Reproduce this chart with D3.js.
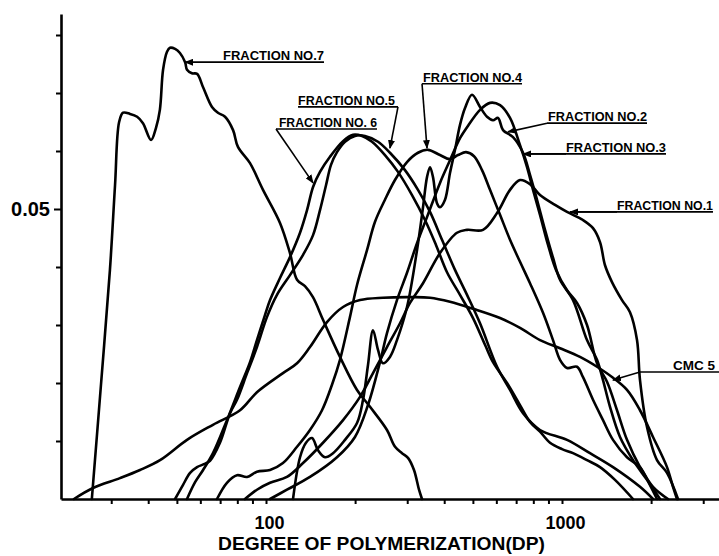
<!DOCTYPE html>
<html><head><meta charset="utf-8">
<script src="https://cdn.jsdelivr.net/npm/d3@7"></script>
<style>
html,body{margin:0;padding:0;background:#fff;}
svg{display:block;}
text{font-family:"Liberation Sans",Arial,sans-serif;font-weight:bold;fill:#000;}
</style></head><body>
<svg id="chart" width="719" height="556"></svg>
<script>
// ---- data: [degree of polymerization, weight fraction] ----
const fraction1 = [[84.9,0],[93.2,0.0016],[103.2,0.0028],[117.7,0.0038],[133.4,0.0062],[155.8,0.0097],[182.1,0.0136],[207.8,0.0176],[229.9,0.0217],[256.3,0.0262],[283.6,0.0303],[306.5,0.0338],[339.2,0.0372],[387.1,0.0424],[441.8,0.0459],[477.7,0.0464],[541.0,0.0464],[603.3,0.0493],[667.4,0.0533],[721.4,0.0550],[779.7,0.0543],[842.8,0.0524],[947.2,0.0507],[1039.8,0.0495],[1177.6,0.0481],[1272.7,0.0467],[1344.0,0.0443],[1397.3,0.0403],[1475.4,0.0374],[1594.8,0.0343],[1697.2,0.0322],[1792.2,0.0274],[1834.5,0.0205],[1937.1,0.0124],[2093.7,0.0067],[2263.1,0.0045],[2465.2,0]];
const fraction2 = [[123.4,0],[130.3,0.0072],[136.5,0.0097],[143.0,0.0105],[149.9,0.0084],[158.3,0.0072],[168.4,0.0079],[184.9,0.0102],[203.0,0.0131],[212.7,0.0171],[221.1,0.0231],[229.9,0.0291],[239.0,0.0257],[248.4,0.0234],[262.3,0.0245],[277.0,0.0274],[299.5,0.0331],[323.7,0.0429],[339.2,0.0503],[349.9,0.0555],[358.2,0.0572],[366.6,0.0555],[378.2,0.0510],[387.1,0.0503],[402.5,0.0516],[418.4,0.0562],[435.0,0.0602],[452.3,0.0645],[470.3,0.0674],[496.6,0.0697],[528.5,0.0676],[558.1,0.0659],[584.7,0.0653],[608.0,0.0657],[632.1,0.0636],[683.2,0.0624],[738.5,0.0597],[779.7,0.0559],[823.4,0.0516],[876.3,0.0464],[932.5,0.0416],[984.6,0.0378],[1089.4,0.0343],[1214.7,0.0274],[1313.0,0.0240],[1375.7,0.0205],[1452.7,0.0159],[1570.2,0.0107],[1737.3,0.0067],[1937.1,0.0033],[2143.2,0]];
const fraction3 = [[103.2,0],[117.7,0.0016],[140.8,0.0038],[173.7,0.0072],[199.8,0.0107],[221.1,0.0162],[242.7,0.0236],[256.3,0.0286],[277.0,0.0343],[299.5,0.0390],[323.7,0.0441],[349.9,0.0486],[387.1,0.0545],[418.4,0.0584],[452.3,0.0622],[477.7,0.0641],[528.5,0.0671],[571.2,0.0683],[617.5,0.0679],[667.4,0.0657],[721.4,0.0610],[761.8,0.0572],[798.2,0.0533],[842.8,0.0490],[897.0,0.0438],[954.5,0.0395],[1039.8,0.0360],[1123.9,0.0338],[1214.7,0.0300],[1313.0,0.0234],[1419.2,0.0202],[1534.0,0.0153],[1658.0,0.0102],[1834.5,0.0055],[2029.6,0.0021],[2280.8,0]];
const fraction4 = [[68.3,0],[73.8,0.0028],[79.8,0.0041],[86.3,0.0038],[93.2,0.0047],[103.2,0.0050],[114.1,0.0062],[127.3,0.0090],[140.8,0.0119],[154.6,0.0153],[167.1,0.0197],[177.8,0.0240],[192.2,0.0314],[203.0,0.0369],[219.4,0.0429],[233.5,0.0478],[252.3,0.0516],[272.7,0.0550],[299.5,0.0581],[326.2,0.0597],[352.6,0.0602],[387.1,0.0593],[418.4,0.0586],[445.3,0.0593],[474.0,0.0598],[504.4,0.0591],[536.8,0.0567],[571.2,0.0533],[617.5,0.0490],[667.4,0.0447],[721.4,0.0409],[779.7,0.0372],[862.7,0.0321],[932.5,0.0274],[984.6,0.0240],[1039.8,0.0226],[1123.9,0.0228],[1177.6,0.0210],[1272.7,0.0171],[1375.7,0.0136],[1487.0,0.0102],[1658.0,0.0072],[1834.5,0.0055],[1982.8,0.0024],[2093.7,0]];
const fraction5 = [[49.3,0],[52.4,0.0024],[55.4,0.0045],[58.5,0.0055],[61.7,0.0060],[64.7,0.0066],[69.9,0.0097],[75.6,0.0148],[79.8,0.0171],[86.3,0.0217],[93.2,0.0262],[100.8,0.0314],[108.9,0.0352],[120.5,0.0386],[133.4,0.0421],[144.2,0.0455],[152.2,0.0498],[159.5,0.0541],[165.8,0.0576],[173.7,0.0598],[184.9,0.0616],[199.8,0.0626],[216.0,0.0626],[239.0,0.0616],[262.3,0.0597],[294.8,0.0567],[326.2,0.0533],[358.2,0.0495],[393.2,0.0447],[435.0,0.0395],[477.7,0.0352],[528.5,0.0303],[603.3,0.0228],[667.4,0.0188],[738.5,0.0148],[842.8,0.0119],[1039.8,0.0102],[1243.4,0.0079],[1487.0,0.0055],[1834.5,0.0021],[2029.6,0]];
const fraction6 = [[54.1,0],[57.6,0.0029],[61.3,0.0050],[66.2,0.0079],[73.8,0.0136],[81.7,0.0193],[88.3,0.0236],[93.2,0.0274],[99.2,0.0317],[103.2,0.0343],[111.5,0.0381],[120.5,0.0417],[130.3,0.0459],[137.6,0.0498],[144.2,0.0538],[152.2,0.0564],[164.5,0.0590],[182.1,0.0617],[196.8,0.0628],[211.0,0.0626],[228.1,0.0616],[252.3,0.0593],[279.2,0.0564],[311.4,0.0524],[344.5,0.0481],[375.2,0.0438],[408.8,0.0391],[452.3,0.0352],[500.5,0.0312],[549.4,0.0266],[584.7,0.0236],[652.1,0.0200],[721.4,0.0162],[779.7,0.0133],[842.8,0.0116],[911.0,0.0097],[1000.1,0.0086],[1089.4,0.0079],[1214.7,0.0067],[1344.0,0.0055],[1510.3,0.0033],[1737.3,0]];
const fraction7 = [[25.8,0],[27.7,0.0197],[29.7,0.0395],[30.9,0.0541],[31.9,0.0650],[32.9,0.0666],[34.7,0.0664],[36.7,0.0659],[38.4,0.0648],[40.9,0.0619],[42.5,0.0640],[43.8,0.0671],[44.9,0.0740],[46.3,0.0771],[47.4,0.0778],[49.3,0.0776],[51.2,0.0769],[53.3,0.0753],[54.1,0.0740],[56.2,0.0734],[58.5,0.0733],[61.3,0.0710],[65.7,0.0676],[68.8,0.0666],[72.7,0.0659],[77.4,0.0636],[80.4,0.0607],[88.3,0.0579],[97.7,0.0533],[111.5,0.0476],[120.5,0.0424],[127.3,0.0378],[135.4,0.0367],[144.1,0.0348],[155.8,0.0309],[177.8,0.0245],[203,0.0188],[224.6,0.0159],[256.3,0.0119],[272.9,0.0090],[288.1,0.0079],[301.8,0.0071],[316.2,0.0050],[328.8,0.0016],[336.5,0]];
const cmc5 = [[22.45,0],[26.03,0.0019],[32.11,0.0036],[37.53,0.0050],[43.85,0.0067],[54.1,0.0102],[66.2,0.0128],[81.7,0.0153],[93.2,0.0184],[114.1,0.0217],[127.3,0.0234],[140.8,0.0262],[160.7,0.0305],[182.1,0.0331],[207.8,0.0343],[248.4,0.0347],[306.5,0.0348],[358.2,0.0347],[418.4,0.0340],[500.5,0.0328],[617.5,0.0312],[721.4,0.0295],[842.8,0.0274],[984.6,0.0260],[1150.4,0.0245],[1313.0,0.0228],[1487.0,0.0209],[1658.0,0.0188],[1834.5,0.0153],[2029.6,0.0107],[2263.1,0.0055],[2371.3,0.0021],[2446.1,0]];

const seriesNames = ["FRACTION NO.1","FRACTION NO.2","FRACTION NO.3","FRACTION NO.4","FRACTION NO.5","FRACTION NO. 6","FRACTION NO.7","CMC 5"];
const seriesData = [fraction1, fraction2, fraction3, fraction4, fraction5, fraction6, fraction7, cmc5];

// label anchors in data space: text left DP, underline value, underline extent, leader to arrow tip
const labelTextDP   = [1534.0, 897.0, 1031.7, 339.2, 128.3, 110.6, 71.6, 2371.3];
const labelLineV    = [0.0495, 0.0648, 0.0595, 0.0716, 0.0676, 0.0638, 0.0753, 0.0219];
const labelLineFrom = [1064.3, 890.0, 738.5, 336.6, 128.3, 108.1, 53.3, 1834.5];
const labelLineTo   = [3236.6, 1937.1, 2245.6, 732.7, 279.2, 237.1, 157.0, 3450.0];
const leaderStart   = [[1534.0,0.0495],[890.0,0.0648],[1031.7,0.0595],[336.6,0.0716],[279.2,0.0676],[108.1,0.0638],[157.0,0.0753],[1834.5,0.0219]];
const leaderTip     = [[1064.3,0.0495],[657.2,0.0633],[738.5,0.0595],[349.9,0.0605],[262.3,0.0605],[144.2,0.0545],[53.3,0.0753],[1487.0,0.0205]];

const xTicks = [30,40,50,60,70,80,90,100,200,300,400,500,600,700,800,900,1000,2000,3000];
const xLabelTicks = [100,1000];
const yTicks = [0.01,0.02,0.03,0.04,0.05,0.06,0.07,0.08];
const yLabelTicks = [0.05];
const xTitle = "DEGREE OF POLYMERIZATION(DP)";

// ---- layout ----
const svg = d3.select("#chart");
const x = d3.scaleLog().domain([100,1000]).range([266,562]);
x.domain([x.invert(61), x.invert(719)]).range([61,719]);
const y = d3.scaleLinear().domain([0,0.05]).range([499,209]);
y.domain([0, y.invert(14)]).range([499,14]);

const labelWidths = [96, 99, 100, 99, 97, 98, 101, 42];

// axes
const xAxis = d3.axisBottom(x).tickValues(xTicks).tickSize(5).tickSizeOuter(0)
  .tickFormat(d => xLabelTicks.includes(d) ? String(d) : "");
const gx = svg.append("g").attr("transform","translate(0,499)").call(xAxis);
gx.select(".domain").attr("stroke","#000").attr("stroke-width",2.6);
gx.selectAll(".tick line").attr("stroke","#000").attr("stroke-width",2);
gx.selectAll(".tick text").attr("y",17).attr("dx",3).style("font-size","18px")
  .style("font-family","'Liberation Sans',Arial,sans-serif").style("font-weight","bold");

const yAxis = d3.axisLeft(y).tickValues(yTicks).tickSize(5).tickSizeOuter(0)
  .tickFormat(d => yLabelTicks.includes(d) ? d.toFixed(2) : "");
const gy = svg.append("g").attr("transform","translate(61,0)").call(yAxis);
gy.select(".domain").attr("stroke","#000").attr("stroke-width",2.6);
gy.selectAll(".tick line").attr("stroke","#000").attr("stroke-width",2)
  .attr("x2", d => yLabelTicks.includes(d) ? -7 : -5);
gy.selectAll(".tick text").attr("x",-11).style("font-size","20px")
  .style("font-family","'Liberation Sans',Arial,sans-serif").style("font-weight","bold");

svg.append("text").attr("x",218).attr("y",550)
  .attr("textLength",327).attr("lengthAdjust","spacingAndGlyphs")
  .style("font-size","18px").text(xTitle);

// curves
const line = d3.line().x(d => x(d[0])).y(d => y(d[1])).curve(d3.curveCatmullRom.alpha(0.5));
svg.append("g").selectAll("path").data(seriesData).join("path")
  .attr("d", line).attr("fill","none").attr("stroke","#000")
  .attr("stroke-width",2.6).attr("stroke-linejoin","round").attr("stroke-linecap","round");

// annotations
svg.append("defs").append("marker").attr("id","arr")
  .attr("markerUnits","userSpaceOnUse").attr("markerWidth",9).attr("markerHeight",7)
  .attr("refX",8).attr("refY",3.5).attr("orient","auto")
  .append("path").attr("d","M0,0 L9,3.5 L0,7 Z").attr("fill","#000");

const ann = svg.append("g");
seriesNames.forEach((name,i) => {
  const ly = y(labelLineV[i]);
  ann.append("line").attr("x1",x(labelLineFrom[i])).attr("x2",x(labelLineTo[i]))
    .attr("y1",ly).attr("y2",ly).attr("stroke","#000").attr("stroke-width",1.6);
  ann.append("line").attr("x1",x(leaderStart[i][0])).attr("y1",y(leaderStart[i][1]))
    .attr("x2",x(leaderTip[i][0])).attr("y2",y(leaderTip[i][1]))
    .attr("stroke","#000").attr("stroke-width",1.6).attr("marker-end","url(#arr)");
  ann.append("text").attr("x",x(labelTextDP[i])).attr("y",ly-2)
    .attr("textLength",labelWidths[i]).attr("lengthAdjust","spacingAndGlyphs")
    .style("font-size","13px").text(name);
});
</script>
</body></html>
